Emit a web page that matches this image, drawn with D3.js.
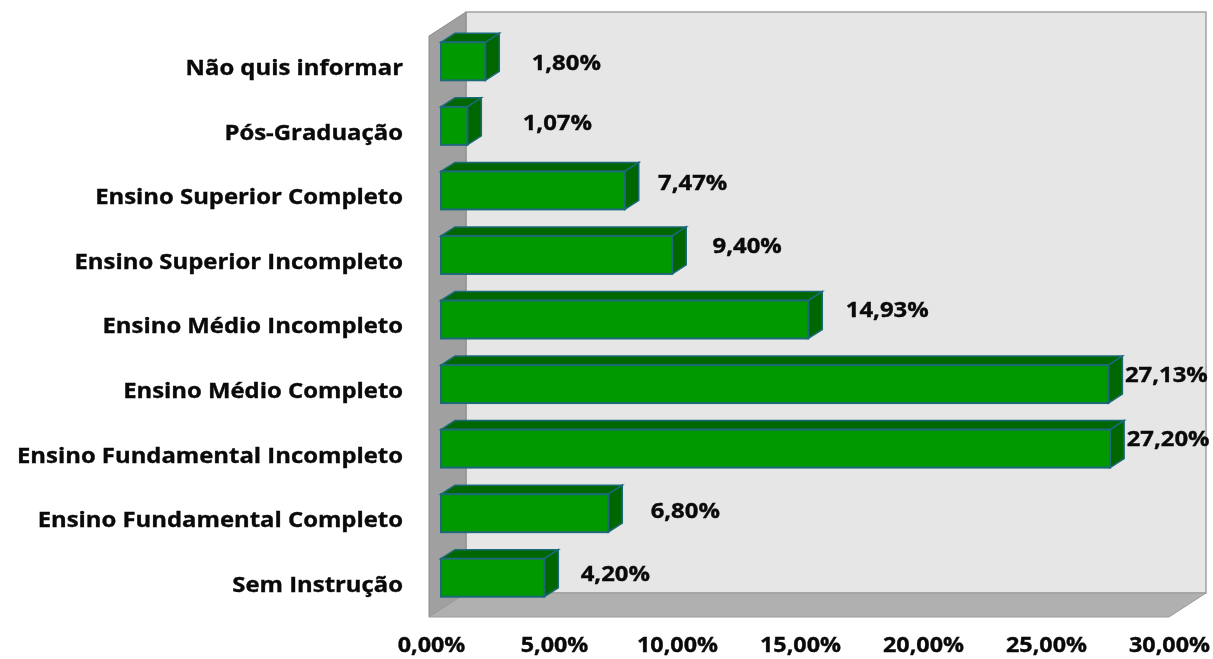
<!DOCTYPE html>
<html>
<head>
<meta charset="utf-8">
<script src="https://cdn.jsdelivr.net/npm/d3@7"></script>
<style>
  html, body { margin: 0; background: #fff; }
  svg { display: block; filter: blur(0.4px); }
  text { font-family: "Open Sans", sans-serif; font-weight: 700; fill: #0a0a0a; stroke: #0a0a0a; stroke-width: 0.35px; }
</style>
</head>
<body>
<svg id="chart"></svg>
<script>
const categories = [
  "Não quis informar",
  "Pós-Graduação",
  "Ensino Superior Completo",
  "Ensino Superior Incompleto",
  "Ensino Médio Incompleto",
  "Ensino Médio Completo",
  "Ensino Fundamental Incompleto",
  "Ensino Fundamental Completo",
  "Sem Instrução",
];
const values = [1.8, 1.07, 7.47, 9.4, 14.93, 27.13, 27.2, 6.8, 4.2];
const ticks = [0, 5, 10, 15, 20, 25, 30];

const chartW = 1213;
const chartH = 659;

const svg = d3.select("#chart").attr("width", chartW).attr("height", chartH);

const x = d3.scaleLinear().domain([0, 30]).range([430, 1168]);
const y = d3.scaleBand().domain(categories).range([36, 617]);

const pt = d3.formatLocale({ decimal: ",", thousands: ".", grouping: [3], currency: ["", ""] }).format(".2f");
const pct = (v) => pt(v) + "%";

// the original text is stretched sideways, so widen the glyphs a bit
const stretch = (sel) => sel.each(function () {
  d3.select(this)
    .attr("textLength", this.getComputedTextLength() * 1.11)
    .attr("lengthAdjust", "spacingAndGlyphs");
});

// box walls, back wall is pushed up and right of the front edge
const wallX = 37, wallY = -24;
const boxL = x(0) - 1, boxR = x(30) + 1, boxT = y.range()[0], boxB = y.range()[1];
const poly = (pts) => pts.map((p) => p.join(",")).join(" ");

svg.append("polygon")
  .attr("points", poly([[boxL + wallX, boxT + wallY], [boxR + wallX, boxT + wallY], [boxR + wallX, boxB + wallY], [boxL + wallX, boxB + wallY]]))
  .attr("fill", "#e6e6e6")
  .attr("stroke", "#a3a3a3")
  .attr("stroke-width", 1.5);
svg.append("polygon")
  .attr("points", poly([[boxL, boxT], [boxL + wallX, boxT + wallY], [boxL + wallX, boxB + wallY], [boxL, boxB]]))
  .attr("fill", "#a0a0a0")
  .attr("stroke", "#8c8c8c");
svg.append("polygon")
  .attr("points", poly([[boxL, boxB], [boxL + wallX, boxB + wallY], [boxR + wallX, boxB + wallY], [boxR, boxB]]))
  .attr("fill", "#b0b0b0")
  .attr("stroke", "#9a9a9a");

// bars
const barH = 38, barDx = 11, barDy = -7;
const sideX = 14, sideY = -9;
const edge = "#1c6a78";

const bars = svg.append("g").selectAll("g")
  .data(categories)
  .enter()
  .append("g")
  .attr("transform", (d) => `translate(${x(0) + barDx},${y(d) + y.bandwidth() / 2 - barH / 2 + barDy})`);

const w = (i) => x(values[i]) - x(0);

bars.append("polygon")
  .attr("points", (d, i) => poly([[0, 0], [sideX, sideY], [w(i) + sideX, sideY], [w(i), 0]]))
  .attr("fill", "#006600")
  .attr("stroke", edge)
  .attr("stroke-width", 1.5);
bars.append("polygon")
  .attr("points", (d, i) => poly([[w(i), 0], [w(i) + sideX, sideY], [w(i) + sideX, barH + sideY], [w(i), barH]]))
  .attr("fill", "#006600")
  .attr("stroke", edge)
  .attr("stroke-width", 1.5);
bars.append("rect")
  .attr("width", (d, i) => w(i))
  .attr("height", barH)
  .attr("fill", "#009900")
  .attr("stroke", edge)
  .attr("stroke-width", 2);

// value labels sit by hand in the original, so each has its own nudge
const nudgeX = [81, 90, 68, 75, 79, 58, 58, 77, 71];
const nudgeY = [-6, -10, -15, -16, -17, -17, -17, -10, -11];

svg.append("g").selectAll("text")
  .data(categories)
  .enter()
  .append("text")
  .attr("x", (d, i) => x(values[i]) + barDx + nudgeX[i])
  .attr("y", (d, i) => y(d) + y.bandwidth() / 2 + nudgeY[i])
  .attr("dy", "0.35em")
  .attr("text-anchor", "middle")
  .attr("font-size", 21.5)
  .text((d, i) => pct(values[i]))
  .call(stretch);

// category labels
const yAxis = svg.append("g")
  .attr("transform", "translate(403,0)")
  .call(d3.axisLeft(y).tickSize(0).tickPadding(0));
yAxis.select(".domain").remove();
yAxis.selectAll("text").attr("font-size", 21.5).style("font-family", null).call(stretch);

// value axis, kept a touch high so the text box stays inside the page
const xAxis = svg.append("g")
  .attr("transform", "translate(1,637.5)")
  .call(d3.axisBottom(x).tickValues(ticks).tickFormat(pct).tickSize(0).tickPadding(0));
xAxis.select(".domain").remove();
xAxis.selectAll("text").attr("font-size", 21).style("font-family", null).call(stretch);
</script>
</body>
</html>
